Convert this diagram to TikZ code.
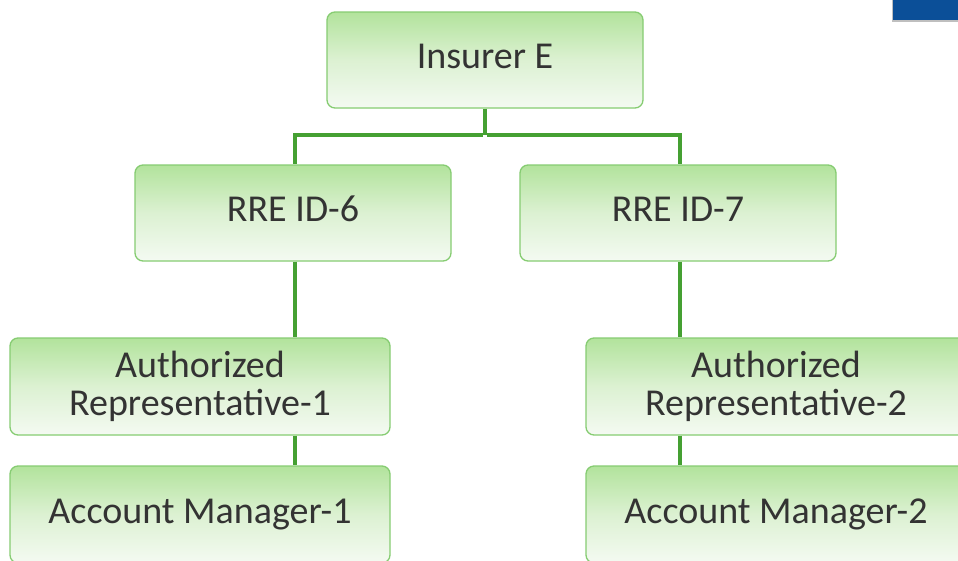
\documentclass[tikz,border=0pt]{standalone}
\usepackage{fontspec}
\setmainfont{Carlito}
\usetikzlibrary{calc}
\definecolor{boxline}{HTML}{86CC72}
\definecolor{boxtop}{HTML}{B2E39C}
\definecolor{boxmid}{HTML}{DCF1D2}
\definecolor{boxbot}{HTML}{F4FAF2}
\definecolor{connline}{HTML}{45A032}
\definecolor{labeltext}{HTML}{333333}
\definecolor{tabblue}{HTML}{0B4F98}
\begin{document}
\begin{tikzpicture}[x=1pt,y=-1pt,
  orgbox/.style={draw=boxline, line width=1.3pt, rounded corners=8pt,
    top color=boxtop, bottom color=boxbot, middle color=boxmid,
    text=labeltext, align=center, inner sep=0pt,
    font=\fontsize{38}{38}\selectfont},
  oneline/.style={orgbox, text height=25pt, text depth=8pt},
  conn/.style={draw=connline, line width=4pt}]
  \clip (0,0) rectangle (958,560);
  \fill[white] (0,0) rectangle (958,560);

  % corner tab
  \fill[black!25] (892,0) rectangle (958,22);
  \fill[tabblue] (893,0) rectangle (958,20);

  % junction and branch columns
  \coordinate (j) at (485,135);
  \coordinate (a6) at (295,0);
  \coordinate (a7) at (680,0);

  % boxes
  \node[oneline, minimum width=316pt, minimum height=96pt] (ins) at (485,60) {Insurer E};
  \node[oneline, minimum width=316pt, minimum height=96pt] (r6) at (293,213) {RRE ID-6};
  \node[oneline, minimum width=316pt, minimum height=96pt] (r7) at (678,213) {RRE ID-7};
  \node[orgbox, minimum width=380pt, minimum height=97pt] (ar1) at (200,386.5) {Authorized\\Representative-1};
  \node[orgbox, minimum width=380pt, minimum height=97pt] (ar2) at (776,386.5) {Authorized\\Representative-2};
  \node[oneline, minimum width=380pt, minimum height=97pt] (am1) at (200,514.5) {Account Manager-1};
  \node[oneline, minimum width=380pt, minimum height=97pt] (am2) at (776,514.5) {Account Manager-2};

  % connectors
  \draw[conn] (ins.south) -- (j);
  \draw[conn] ([xshift=-2pt]j) -| (a6 |- r6.north);
  \draw[conn] ([xshift=2pt]j) -| (a7 |- r7.north);
  \draw[conn] (a6 |- r6.south) -- (a6 |- ar1.north);
  \draw[conn] (a7 |- r7.south) -- (a7 |- ar2.north);
  \draw[conn] (a6 |- ar1.south) -- (a6 |- am1.north);
  \draw[conn] (a7 |- ar2.south) -- (a7 |- am2.north);
\end{tikzpicture}
\end{document}
